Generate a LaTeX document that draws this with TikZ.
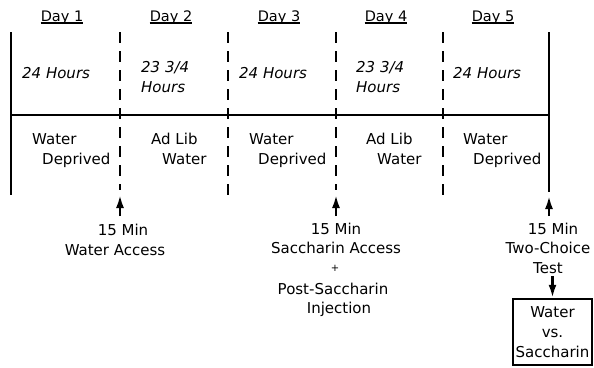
\documentclass[tikz,border=0pt]{standalone}
\usepackage{fontspec}
\setmainfont{DejaVu Sans}
\usetikzlibrary{arrows.meta}
\begin{document}
\begin{tikzpicture}[x=1pt,y=-1pt,
  txt/.style={inner sep=0pt,font=\fontsize{15}{18}\selectfont},
  hrs/.style={txt,font=\fontsize{15}{18}\selectfont\itshape},
  dayl/.style={txt,font=\fontsize{14.5}{18}\selectfont,anchor=base},
  solidline/.style={line width=2.3pt},
  dashline/.style={line width=2.3pt,dash pattern=on 11pt off 8pt},
  arr/.style={line width=2.3pt,-{Latex[length=13pt,width=8pt]}}]
\useasboundingbox (0,0) rectangle (594,367);
% day labels
\foreach \n/\x in {1/62,2/171,3/279,4/386,5/493}{
  \node[dayl] (day\n) at (\x,21) {Day \n};
  \draw[line width=1.2pt] ([yshift=-2pt]day\n.base west) -- ([yshift=-2pt]day\n.base east);
}
% timeline frame
\coordinate (lt) at (11,32); \coordinate (lb) at (11,195);
\coordinate (rt) at (549,32); \coordinate (rb) at (549,192);
\coordinate (hl) at (11,115); \coordinate (hr) at (549,115);
\draw[solidline] (lt) -- (lb);
\draw[solidline] (rt) -- (rb);
\draw[solidline] (hl) -- (hr);
\foreach \n/\x/\e in {1/120/190,2/228/197,3/336/190,4/443/197}{
  \coordinate (dt\n) at (\x,32); \coordinate (db\n) at (\x,\e);
  \draw[dashline] (dt\n) -- (db\n);
}
% hours
\node[hrs,anchor=base west] (h1) at (22,78) {24 Hours};
\node[hrs,anchor=base west] (h2a) at (141,72) {23 3/4};
\node[hrs,anchor=base west] (h2b) at (141,92) {Hours};
\node[hrs,anchor=base west] (h3) at (239,78) {24 Hours};
\node[hrs,anchor=base west] (h4a) at (356,72) {23 3/4};
\node[hrs,anchor=base west] (h4b) at (356,92) {Hours};
\node[hrs,anchor=base west] (h5) at (453,78) {24 Hours};
% conditions
\node[txt,anchor=base west] (c1a) at (32,144) {Water};
\node[txt,anchor=base west] (c1b) at (42,164) {Deprived};
\node[txt,anchor=base west] (c2a) at (151,144) {Ad Lib};
\node[txt,anchor=base west] (c2b) at (162,164) {Water};
\node[txt,anchor=base west] (c3a) at (249,144) {Water};
\node[txt,anchor=base west] (c3b) at (258,164) {Deprived};
\node[txt,anchor=base west] (c4a) at (366,144) {Ad Lib};
\node[txt,anchor=base west] (c4b) at (377,164) {Water};
\node[txt,anchor=base west] (c5a) at (463,144) {Water};
\node[txt,anchor=base west] (c5b) at (473,164) {Deprived};
% events
\coordinate (a1s) at (120,216); \coordinate (a1e) at (120,195);
\coordinate (a2s) at (336,216); \coordinate (a2e) at (336,195);
\coordinate (a3s) at (549,216); \coordinate (a3e) at (549,196);
\draw[arr] (a1s) -- (a1e);
\draw[arr] (a2s) -- (a2e);
\draw[arr] (a3s) -- (a3e);
\node[txt,anchor=base] (e1a) at (123,235) {15 Min};
\node[txt,anchor=base] (e1b) at (115,255) {Water Access};
\node[txt,anchor=base] (e2a) at (336,234) {15 Min};
\node[txt,anchor=base] (e2b) at (336,253) {Saccharin Access};
\node[txt,anchor=base,font=\fontsize{10}{12}\selectfont] (e2c) at (335,271) {+};
\node[txt,anchor=base] (e2d) at (333,294) {Post-Saccharin};
\node[txt,anchor=base] (e2e) at (339,313) {Injection};
\node[txt,anchor=base] (e3a) at (553,234) {15 Min};
\node[txt,anchor=base] (e3b) at (548,253) {Two-Choice};
\node[txt,anchor=base] (e3c) at (548,273) {Test};
\node[draw,line width=2.5pt,minimum width=79pt,minimum height=66pt,inner sep=0pt,
  align=center,font=\fontsize{15}{20}\selectfont] (box) at (552.5,332) {Water\\vs.\\Saccharin};
\draw[arr] (box.north |- e3c.south) ++(0,3) -- (box.north);
\end{tikzpicture}
\end{document}
